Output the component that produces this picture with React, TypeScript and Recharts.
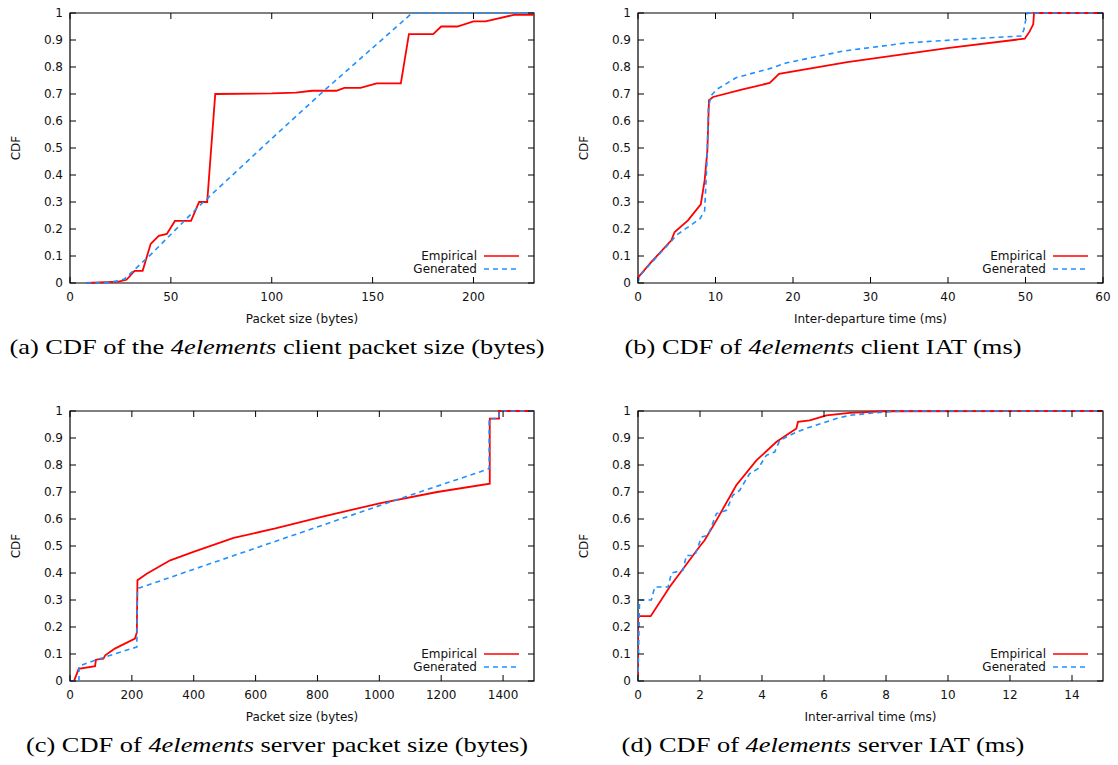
import type { ReactNode } from "react";
import { LineChart, Line, XAxis, YAxis, ReferenceArea, Legend } from "recharts";

type Pt = [number, number];

const CDF_TICKS = [0, 0.1, 0.2, 0.3, 0.4, 0.5, 0.6, 0.7, 0.8, 0.9, 1];

// (a) client packet size (bytes)
const clientSizeTicks = [0, 50, 100, 150, 200];
const clientSizeEmpirical: Pt[] = [
  [7.9, 0], [18, 0.003], [24, 0.005], [28, 0.012], [32, 0.045], [36, 0.045],
  [40, 0.145], [44, 0.175], [48, 0.182], [52, 0.23], [60, 0.23], [64, 0.3],
  [68, 0.3], [72, 0.7], [100, 0.702], [112, 0.705], [120, 0.712], [132, 0.712],
  [136, 0.723], [144, 0.723], [152, 0.739], [164, 0.739], [168, 0.922],
  [180, 0.922], [184, 0.95], [192, 0.95], [200, 0.969], [206, 0.969],
  [220, 0.993], [230, 0.993],
];
const clientSizeGenerated: Pt[] = [
  [8, 0], [18, 0.002], [24, 0.008], [27, 0.015], [40, 0.105], [64, 0.285],
  [99, 0.528], [125.6, 0.71], [169.6, 1], [230, 1],
];

// (b) client inter-departure time (ms)
const clientIatTicks = [0, 10, 20, 30, 40, 50, 60];
const clientIatEmpirical: Pt[] = [
  [0, 0], [0.05, 0.022], [0.43, 0.035], [1.73, 0.078], [4.3, 0.158],
  [4.73, 0.189], [6.45, 0.232], [8.1, 0.291], [8.6, 0.38], [8.95, 0.49],
  [9.16, 0.677], [9.68, 0.689], [13.5, 0.717], [17, 0.741], [18.2, 0.775],
  [27, 0.818], [39.9, 0.87], [49.9, 0.905], [50.5, 0.93], [51, 0.958],
  [51.1, 1], [60, 1],
];
const clientIatGenerated: Pt[] = [
  [0, 0], [0.1, 0.015], [0.5, 0.035], [1.73, 0.075], [4.3, 0.155],
  [4.95, 0.177], [8, 0.238], [8.6, 0.268], [8.9, 0.45], [9.08, 0.652],
  [9.47, 0.695], [10.1, 0.716], [12.7, 0.761], [17, 0.794], [19.1, 0.815],
  [26.5, 0.859], [34.6, 0.889], [43.2, 0.905], [49.5, 0.915], [49.8, 0.94],
  [50.2, 1], [60, 1],
];

// (c) server packet size (bytes)
const serverSizeTicks = [0, 200, 400, 600, 800, 1000, 1200, 1400];
const serverSizeEmpirical: Pt[] = [
  [0, 0], [13, 0], [28, 0.045], [81, 0.055], [84, 0.079], [108, 0.083],
  [114, 0.095], [145, 0.12], [210, 0.157], [216, 0.18], [218, 0.373],
  [248, 0.397], [324, 0.447], [399, 0.478], [529, 0.53], [664, 0.565],
  [810, 0.607], [1004, 0.659], [1187, 0.7], [1357, 0.731], [1357, 0.972],
  [1387, 0.972], [1387, 1], [1500, 1],
];
const serverSizeGenerated: Pt[] = [
  [0, 0], [29, 0], [29, 0.055], [86, 0.079], [216, 0.126], [218, 0.342],
  [421, 0.422], [648, 0.511], [1058, 0.672], [1355, 0.786], [1355, 0.972],
  [1387, 0.972], [1387, 1], [1500, 1],
];

// (d) server inter-arrival time (ms)
const serverIatTicks = [0, 2, 4, 6, 8, 10, 12, 14];
const serverIatEmpirical: Pt[] = [
  [0, 0], [0, 0.24], [0.41, 0.24], [1.02, 0.348], [2, 0.5], [2.15, 0.521],
  [2.53, 0.595], [3.17, 0.725], [3.82, 0.817], [4.46, 0.885], [5.11, 0.935],
  [5.16, 0.96], [5.54, 0.965], [6.08, 0.984], [6.83, 0.993], [7.9, 0.999],
  [15, 1],
];
const serverIatGenerated: Pt[] = [
  [0, 0], [0.05, 0.3], [0.43, 0.3], [0.54, 0.348], [0.97, 0.348], [1.08, 0.4],
  [1.45, 0.41], [1.56, 0.465], [1.83, 0.465], [2.05, 0.533], [2.26, 0.54],
  [2.53, 0.62], [2.85, 0.632], [3.06, 0.688], [3.28, 0.706], [3.6, 0.768],
  [3.87, 0.786], [4.14, 0.836], [4.41, 0.848], [4.57, 0.891], [5.11, 0.922],
  [5.54, 0.94], [6.4, 0.972], [6.83, 0.984], [7.9, 0.996], [8.6, 1], [15, 1],
];

const W = 560;
const H = 330;
const TOP = 13;
const Y_AXIS_W = 70;
const X_AXIS_H = 47;
const BOTTOM = H - X_AXIS_H;
const TICK = 6;
const FONT = "'DejaVu Sans', sans-serif";
const RED = "#ff0000";
const BLUE = "#1e90ff";

const toRows = (pts: Pt[]) => pts.map(([x, y]) => ({ x, y }));
const fmtCdf = (v: number) => (v === 0 || v === 1 ? String(v) : v.toFixed(1));

interface PanelProps {
  left: number;
  top: number;
  rightMargin: number;
  domain: [number, number];
  ticks: number[];
  xLabel: string;
  empirical: Pt[];
  generated: Pt[];
  caption: ReactNode;
  captionCenter: number;
}

function Panel({
  left,
  top,
  rightMargin,
  domain,
  ticks,
  xLabel,
  empirical,
  generated,
  caption,
  captionCenter,
}: PanelProps) {
  const plotRight = W - rightMargin;

  const xTick = (p: any) => {
    const { x, payload } = p;
    return (
      <g>
        <line x1={x} x2={x} y1={BOTTOM} y2={BOTTOM - TICK} stroke="#000" />
        <line x1={x} x2={x} y1={TOP} y2={TOP + TICK} stroke="#000" />
        <text x={x} y={BOTTOM + 14} textAnchor="middle" dominantBaseline="central"
          fontFamily={FONT} fontSize={12} fill="#111">
          {payload.value}
        </text>
      </g>
    );
  };

  const yTick = (p: any) => {
    const { y, payload } = p;
    return (
      <g>
        <line x1={Y_AXIS_W} x2={Y_AXIS_W + TICK} y1={y} y2={y} stroke="#000" />
        <line x1={plotRight - TICK} x2={plotRight} y1={y} y2={y} stroke="#000" />
        <text x={Y_AXIS_W - 7} y={y} textAnchor="end" dominantBaseline="central"
          fontFamily={FONT} fontSize={12} fill="#111">
          {fmtCdf(payload.value)}
        </text>
      </g>
    );
  };

  const legend = (p: any) => (
    <div
      style={{
        position: "absolute",
        right: W - plotRight + 15,
        top: 249,
        fontFamily: FONT,
        fontSize: 12,
        color: "#111",
      }}
    >
      {(p.payload ?? []).map((e: any) => (
        <div key={e.value} style={{ display: "flex", alignItems: "center", justifyContent: "flex-end", height: 13.3 }}>
          <span style={{ marginRight: 7 }}>{e.value}</span>
          <svg width={35} height={6}>
            <line x1={0} x2={35} y1={3} y2={3} stroke={e.color}
              strokeWidth={1.6} strokeDasharray={e.payload?.strokeDasharray} />
          </svg>
        </div>
      ))}
    </div>
  );

  return (
    <div style={{ position: "absolute", left, top, width: W, height: H + 40 }}>
      <LineChart width={W} height={H} margin={{ top: TOP, right: rightMargin, left: 0, bottom: 0 }}>
        <XAxis
          type="number"
          dataKey="x"
          domain={domain}
          ticks={ticks}
          interval={0}
          allowDataOverflow
          height={X_AXIS_H}
          axisLine={false}
          tickLine={false}
          tick={xTick}
          label={(lp: any) => {
            const vb = lp.viewBox ?? {};
            return (
              <text x={vb.x + vb.width / 2} y={vb.y + 36} textAnchor="middle"
                dominantBaseline="central" fontFamily={FONT} fontSize={12} fill="#111">
                {xLabel}
              </text>
            );
          }}
        />
        <YAxis
          type="number"
          domain={[0, 1]}
          ticks={CDF_TICKS}
          interval={0}
          width={Y_AXIS_W}
          axisLine={false}
          tickLine={false}
          tick={yTick}
          label={(lp: any) => {
            const vb = lp.viewBox ?? {};
            const cx = vb.x + 16;
            const cy = vb.y + vb.height / 2;
            return (
              <text x={cx} y={cy} transform={`rotate(-90, ${cx}, ${cy})`} textAnchor="middle"
                dominantBaseline="central" fontFamily={FONT} fontSize={12} fill="#111">
                CDF
              </text>
            );
          }}
        />
        <ReferenceArea x1={domain[0]} x2={domain[1]} y1={0} y2={1} fill="none"
          stroke="#000" strokeWidth={1.2} fillOpacity={0} />
        <Legend layout="horizontal" verticalAlign="middle" align="center" content={legend}
          wrapperStyle={{ left: 0, top: 0, width: W, height: H }} />
        <Line
          data={toRows(empirical)}
          dataKey="y"
          name="Empirical"
          type="linear"
          stroke={RED}
          strokeWidth={1.8}
          dot={false}
          activeDot={false}
          isAnimationActive={false}
        />
        <Line
          data={toRows(generated)}
          dataKey="y"
          name="Generated"
          type="linear"
          stroke={BLUE}
          strokeWidth={1.6}
          strokeDasharray="5 4"
          dot={false}
          activeDot={false}
          isAnimationActive={false}
        />
      </LineChart>
      <div
        style={{
          position: "absolute",
          top: 334,
          left: captionCenter - 300,
          width: 600,
          textAlign: "center",
          fontFamily: "'Liberation Serif', serif",
          fontSize: 22,
          color: "#000",
          whiteSpace: "nowrap",
          transform: "scaleX(1.2)",
          transformOrigin: "50% 50%",
        }}
      >
        {caption}
      </div>
    </div>
  );
}

export default function App() {
  return (
    <div style={{ position: "absolute", left: 0, top: 0, width: 1118, height: 765, background: "#fff" }}>
      <Panel
        left={0}
        top={0}
        rightMargin={26}
        domain={[0, 230]}
        ticks={clientSizeTicks}
        xLabel="Packet size (bytes)"
        empirical={clientSizeEmpirical}
        generated={clientSizeGenerated}
        captionCenter={277}
        caption={<>(a) CDF of the <i>4elements</i> client packet size (bytes)</>}
      />
      <Panel
        left={568}
        top={0}
        rightMargin={25}
        domain={[0, 60]}
        ticks={clientIatTicks}
        xLabel="Inter-departure time (ms)"
        empirical={clientIatEmpirical}
        generated={clientIatGenerated}
        captionCenter={255}
        caption={<>(b) CDF of <i>4elements</i> client IAT (ms)</>}
      />
      <Panel
        left={0}
        top={398}
        rightMargin={26}
        domain={[0, 1500]}
        ticks={serverSizeTicks}
        xLabel="Packet size (bytes)"
        empirical={serverSizeEmpirical}
        generated={serverSizeGenerated}
        captionCenter={277}
        caption={<>(c) CDF of <i>4elements</i> server packet size (bytes)</>}
      />
      <Panel
        left={568}
        top={398}
        rightMargin={25}
        domain={[0, 15]}
        ticks={serverIatTicks}
        xLabel="Inter-arrival time (ms)"
        empirical={serverIatEmpirical}
        generated={serverIatGenerated}
        captionCenter={255}
        caption={<>(d) CDF of <i>4elements</i> server IAT (ms)</>}
      />
    </div>
  );
}
